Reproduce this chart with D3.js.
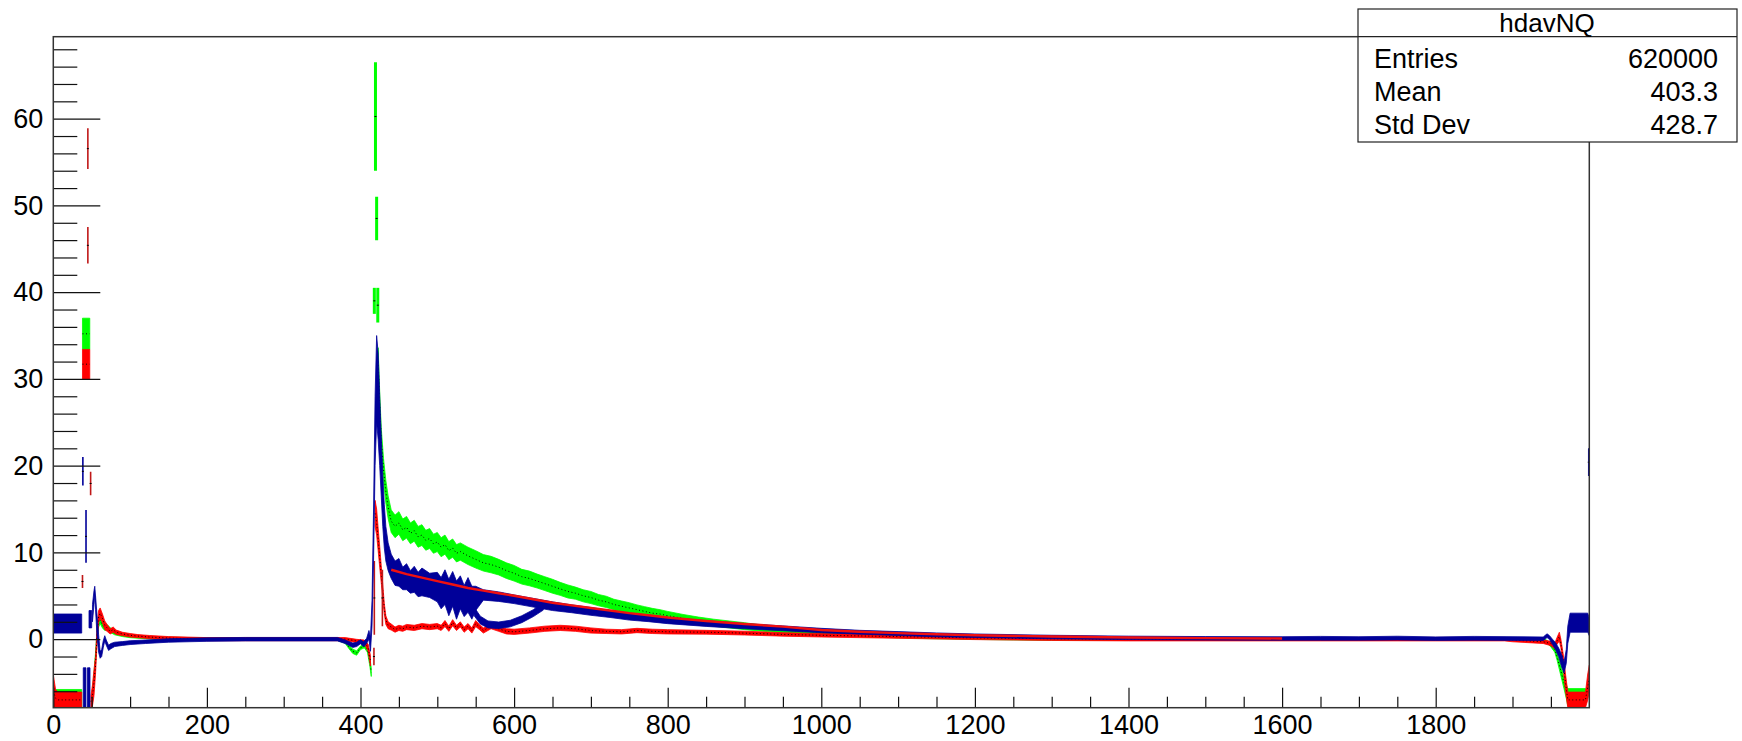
<!DOCTYPE html>
<html>
<head>
<meta charset="utf-8">
<script src="https://d3js.org/d3.v7.min.js"></script>
<style>
	body { margin:0; background:#fff; }
	svg text { font-family:"Liberation Sans", Arial, Helvetica, sans-serif; fill:#000; }
</style>
</head>
<body>
<div id="svg-container"></div>
<script>
// histogram bins: [x, value, error], null = gap
var greenBins = [
	[2,-6.8,1.0],[37,-6.8,1.0], null,
	[38,35.2,1.8],[47.5,35.2,1.8], null,
	[50,-7.5,0.8],[53,-4.5,0.6],[55,-2.0,0.5],[57,0.5,0.5],[59,1.8,0.4],[61,2.2,0.4],[64,1.6,0.3],[67,1.3,0.3],
	[70,1.4,0.3],[75,1.0,0.25],[80,0.7,0.2],[90,0.5,0.2],[100,0.35,0.18],[120,0.2,0.15],[150,0.08,0.15],
	[200,0,0.15],[370,0,0.15],[380,-0.3,0.18],[385,-0.9,0.2],[390,-1.4,0.25],[395,-1.6,0.25],[400,-1.0,0.2],
	[405,-0.8,0.2],[409,-1.2,0.3],[412,-2.5,0.5],[414,-3.8,0.5], null,
	[423,32,1.6],[425,27,1.5],[427,23,1.4],[430,19.5,1.3],[433,17,1.3],[436,15.2,1.3],
	[440,13.6,1.3],[445,13.0,1.3],[450,13.4,1.3],[455,12.6,1.25],[460,12.9,1.25],[465,12.2,1.2],[470,12.5,1.2],
	[475,11.8,1.2],[480,12.0,1.2],[485,11.4,1.15],[490,11.6,1.15],[495,11.0,1.1],[500,11.2,1.1],[505,10.6,1.1],
	[510,10.9,1.1],[515,10.2,1.05],[520,10.5,1.05],[525,9.9,1.0],[530,10.1,1.0],[540,9.6,1.0],[550,9.2,1.0],
	[560,8.8,0.95],[570,8.6,0.95],[580,8.3,0.9],[590,7.9,0.9],[600,7.6,0.9],[610,7.2,0.85],[620,7.0,0.85],
	[630,6.7,0.8],[640,6.4,0.8],[650,6.1,0.8],[660,5.8,0.75],[670,5.5,0.75],[680,5.3,0.7],[690,5.0,0.7],
	[700,4.8,0.7],[710,4.5,0.65],[720,4.3,0.65],[730,4.0,0.6],[740,3.8,0.6],[750,3.6,0.6],[760,3.4,0.55],
	[770,3.2,0.55],[780,3.0,0.55],[790,2.9,0.5],[800,2.7,0.5],[820,2.4,0.45],[840,2.1,0.45],[860,1.9,0.4],
	[880,1.7,0.4],[900,1.5,0.4],[920,1.3,0.35],[940,1.15,0.35],[960,1.0,0.3],[980,0.9,0.3],[1000,0.8,0.3],
	[1030,0.65,0.25],[1060,0.5,0.25],[1090,0.4,0.22],[1120,0.3,0.2],[1150,0.22,0.18],[1200,0.12,0.15],
	[1250,0.06,0.15],[1300,0.02,0.15],[1940,0,0.15],[1945,-0.3,0.15],[1950,-0.7,0.2],[1955,-1.2,0.3],
	[1958,-2.0,0.4],[1961,-3.0,0.5],[1964,-4.0,0.6],[1967,-5.0,0.7],[1970,-6.0,0.8],[1972,-6.7,1.0],[1995,-6.7,1.0]
];

var redBins = [
	[0,-6.0,1.9],[3,-6.8,1.0],[6,-7.0,0.9],[37,-7.0,0.9], null,
	[38,31.7,1.7],[47.5,31.7,1.7], null,
	[49,-7.2,0.7],[51,-6.5,1.2],[53,-5.0,1.5],[55,-3.0,1.0],[57,0.5,1.0],[59,2.6,0.7],[61,3.0,0.6],[64,2.4,0.5],
	[67,1.6,0.5],[70,1.3,0.4],[74,0.9,0.3],[78,1.1,0.3],[82,0.8,0.25],[90,0.6,0.2],[100,0.45,0.2],[110,0.35,0.18],
	[125,0.25,0.18],[150,0.12,0.18],[200,0,0.18],[380,0,0.18],[395,-0.2,0.18],[405,-0.3,0.2],[410,-1.0,0.4],
	[413,-2.5,0.6], null,
	[419,14.5,1.5],[421,13.5,1.5],[423,11.5,1.3],[425,9.5,1.2],[427,7.5,1.0],[429,5.5,0.8],[431,3.5,0.6],
	[433,2.2,0.5],[436,1.6,0.4],[440,1.4,0.35],[445,1.1,0.3],[450,1.3,0.3],[455,1.2,0.3],[460,1.4,0.3],
	[470,1.3,0.3],[480,1.5,0.3],[490,1.4,0.3],[500,1.5,0.3],[505,1.3,0.3],[510,1.8,0.35],[515,1.2,0.3],
	[520,1.9,0.35],[525,1.3,0.3],[530,1.7,0.3],[535,1.1,0.3],[540,1.5,0.3],[545,1.0,0.3],[550,1.8,0.35],
	[555,1.4,0.3],[560,1.0,0.3],[570,1.5,0.3],[580,1.2,0.3],[590,0.9,0.3],[600,0.85,0.3],[620,1.0,0.3],
	[640,1.2,0.3],[660,1.3,0.3],[680,1.2,0.3],[700,1.0,0.3],[720,0.9,0.25],[740,0.85,0.25],[760,1.0,0.25],
	[780,0.9,0.25],[800,0.85,0.25],[850,0.8,0.22],[900,0.7,0.22],[950,0.55,0.2],[1000,0.45,0.2],[1100,0.3,0.2],
	[1200,0.15,0.2],[1300,0.05,0.2],[1400,0,0.2],[1890,0,0.2],[1900,-0.1,0.2],[1920,-0.2,0.2],[1940,-0.3,0.2],
	[1950,-0.5,0.25],[1955,-0.8,0.3],[1958,-0.2,0.4],[1961,0.3,0.5],[1963,-0.5,0.5],[1966,-2.5,0.8],
	[1969,-5.0,1.0],[1972,-7.0,0.9],[1995,-7.0,0.9],[1998,-5.5,1.5],[2000,-4.5,1.5]
];

var blueBins = [
	[0,1.8,1.1],[37,1.8,1.1], null,
	[39,-5.6,2.3],[42.5,-5.6,2.3], null,
	[44.5,-5.6,2.3],[47.8,-5.6,2.3], null,
	[46.5,2.3,1.0],[50,2.3,1.0], null,
	[51,3.0,1.0],[53,4.8,0.8],[54,5.6,0.5],[55,4.2,0.8],[57,1.5,1.2],[59,-0.5,1.0],[61,-1.8,0.4],[63,-1.6,0.4],
	[65,-0.6,0.4],[67,0.1,0.3],[69,-0.4,0.3],[72,-1.0,0.3],[75,-0.8,0.3],[80,-0.6,0.25],[90,-0.5,0.22],
	[100,-0.4,0.22],[120,-0.3,0.2],[150,-0.15,0.2],[200,-0.05,0.2],[250,0,0.2],[370,0,0.2],[380,-0.3,0.2],
	[385,-0.5,0.22],[390,-0.7,0.25],[395,-0.6,0.25],[400,-0.3,0.22],[404,-0.6,0.3],[408,-0.2,0.3],[411,0.5,0.5],
	[413,-0.6,0.8],[415,3.0,1.5],[417,12.0,3.0],[419,24.0,4.0],[421,30.0,5.0],[423,28.0,5.0],[425,24,4],
	[427,20,3.5],[429,16,3],[431,13,2.5],[433,11,2],[436,9.5,1.6],[440,8.4,1.4],[445,7.6,1.4],[450,7.7,1.6],
	[455,7.0,1.3],[460,7.2,1.5],[465,6.6,1.3],[470,6.9,1.5],[475,6.3,1.4],[480,6.6,1.6],[490,6.2,1.4],
	[500,6.0,1.7],[505,5.3,1.8],[510,6.0,2.0],[515,4.8,2.1],[520,5.8,2.0],[525,4.5,2.2],[530,5.4,1.9],
	[535,4.4,1.8],[540,5.1,2.0],[545,4.2,1.9],[550,4.7,1.4],[560,5.1,0.6],[580,4.9,0.55],[600,4.6,0.5],
	[625,4.2,0.5],[650,3.8,0.5],[675,3.5,0.45],[700,3.2,0.45],[725,2.9,0.4],[750,2.6,0.4],[775,2.4,0.38],
	[800,2.15,0.36],[850,1.8,0.33],[900,1.5,0.3],[950,1.25,0.28],[1000,1.0,0.25],[1050,0.8,0.22],
	[1100,0.65,0.22],[1150,0.5,0.22],[1200,0.4,0.2],[1300,0.25,0.2],[1400,0.15,0.2],[1500,0.1,0.2],
	[1600,0.08,0.2],[1650,0.1,0.22],[1700,0.08,0.2],[1750,0.12,0.22],[1800,0.06,0.2],[1850,0.1,0.22],
	[1940,0.05,0.2],[1945,0.4,0.22],[1948,0.2,0.22],
	[1952,-0.3,0.3],[1956,-0.8,0.4],[1960,-1.5,0.5],[1964,-2.5,0.7],[1967,-3.3,0.6],[1970,-2.0,0.8],
	[1972,0.5,1.0],[1975,1.9,1.1],[1998,1.9,1.1],[2000,1.4,1.0], null,
	[548,3.2,0.5],[556,2.2,0.45],[566,1.7,0.4],[580,1.6,0.38],[595,1.8,0.38],[610,2.3,0.4],[625,3.0,0.4],
	[638,3.8,0.45]
];

// fitted curve drawn on top
var fitX = [440,460,480,500,520,540,560,580,600,625,650,675,700,725,750,775,800,850,900,950,1000,1050,1100,1150,1200,1300,1400,1500,1600];
var fitY = [8.0,7.5,7.1,6.7,6.3,5.9,5.6,5.3,5.0,4.6,4.2,3.9,3.6,3.3,3.0,2.75,2.5,2.1,1.75,1.45,1.05,0.85,0.7,0.57,0.46,0.3,0.19,0.12,0.08];

// single bins shown only as error segments: [x, low, high]
var greenSegs = [[418,37.5,40.5],[419.5,54,66.5],[421,46,51],[422.5,36.5,40.5]];
var redSegs = [[38,5.9,7.4],[45,54.2,58.9],[45,43.3,47.5],[48.6,16.6,19.3],[418,0.5,9],[428.5,1.5,8],[417.5,-3,-1]];
var blueSegs = [[38.5,17.7,21.0],[42.6,8.8,14.9],[1999.3,18.8,22.0]];

var xMajor = [0,200,400,600,800,1000,1200,1400,1600,1800];
var yMajor = [0,10,20,30,40,50,60];

var statsTitle = "hdavNQ",
	statsNames = ["Entries","Mean","Std Dev"],
	statsValues = ["620000","403.3","428.7"];

var svg_width=1742,
	svg_height=741,
	frame_left=53.3,
	frame_top=36.7,
	frame_right=1589.3,
	frame_bottom=707.7,
	label_size=27,
	green="#00ff00",
	red="#ff0000",
	blue="#000099";

var svg = d3.select("#svg-container").append("svg")
	.attr("width", svg_width)
	.attr("height", svg_height);

var x = d3.scaleLinear().domain([0,2000]).range([frame_left, frame_right]);
var y = d3.scaleLinear().domain([-7.9,69.45]).range([frame_bottom, frame_top]);

svg.append("clipPath").attr("id","frame-clip")
	.append("rect")
	.attr("x", frame_left).attr("y", frame_top)
	.attr("width", frame_right-frame_left).attr("height", frame_bottom-frame_top);

var plot = svg.append("g").attr("clip-path","url(#frame-clip)");

var band = d3.area()
	.defined(function (d) { return d!=null; })
	.x(function (d) { return x(d[0]); })
	.y0(function (d) { return y(d[1]-d[2]); })
	.y1(function (d) { return y(d[1]+d[2]); });

var centre = d3.line()
	.defined(function (d) { return d!=null; })
	.x(function (d) { return x(d[0]); })
	.y(function (d) { return y(d[1]); });

function drawHisto(bins, colour, dots) {
	plot.append("path").datum(bins)
		.attr("d", band)
		.attr("fill", colour)
		.attr("stroke", colour)
		.attr("stroke-width", 0.8);
	if (dots) {
		plot.append("path").datum(bins)
			.attr("d", centre)
			.attr("fill", "none")
			.attr("stroke", "#000")
			.attr("stroke-width", 1)
			.attr("stroke-dasharray", "1,2.5");
	}
}

function drawSegs(segs, colour, width) {
	plot.selectAll(null).data(segs).enter().append("line")
		.attr("x1", function (d) { return x(d[0]); })
		.attr("x2", function (d) { return x(d[0]); })
		.attr("y1", function (d) { return y(d[1]); })
		.attr("y2", function (d) { return y(d[2]); })
		.attr("stroke", colour)
		.attr("stroke-width", width);
	plot.selectAll(null).data(segs).enter().append("rect")
		.attr("x", function (d) { return x(d[0])-1; })
		.attr("y", function (d) { return y((d[1]+d[2])/2)-0.5; })
		.attr("width", 2).attr("height", 1)
		.attr("fill", "#000");
}

drawHisto(greenBins, green, true);
drawSegs(greenSegs, green, 3);
drawHisto(redBins, red, true);
drawSegs(redSegs, "#c01818", 1.6);
drawHisto(blueBins, blue, false);
drawSegs(blueSegs, blue, 1.6);

plot.append("path")
	.datum(fitX.map(function (v,i) { return [v, fitY[i]]; }))
	.attr("d", centre)
	.attr("fill", "none")
	.attr("stroke", "#f01010")
	.attr("stroke-width", 2.4);

// axes, ticks pointing inside the frame
var xMinor = d3.range(50, 2000, 50).filter(function (v) { return v%200!=0; });
var yMinor = d3.range(-6, 69, 2).filter(function (v) { return v%10!=0; });

var gx = svg.append("g").attr("transform","translate(0,"+frame_bottom+")")
	.call(d3.axisBottom(x).tickValues(xMajor).tickSize(-20).tickPadding(7).tickFormat(d3.format("d")));
svg.append("g").attr("transform","translate(0,"+frame_bottom+")")
	.call(d3.axisBottom(x).tickValues(xMinor).tickSize(-11).tickFormat(""));
var gy = svg.append("g").attr("transform","translate("+frame_left+",0)")
	.call(d3.axisLeft(y).tickValues(yMajor).tickSize(-47).tickPadding(10).tickFormat(d3.format("d")));
svg.append("g").attr("transform","translate("+frame_left+",0)")
	.call(d3.axisLeft(y).tickValues(yMinor).tickSize(-24).tickFormat(""));

svg.selectAll(".domain").remove();
svg.selectAll(".tick line").attr("stroke","#111").attr("stroke-width",1.2);
gx.selectAll("text").attr("font-size",label_size).attr("font-family",null);
gy.selectAll("text").attr("font-size",label_size).attr("font-family",null);

svg.append("rect")
	.attr("x", frame_left).attr("y", frame_top)
	.attr("width", frame_right-frame_left).attr("height", frame_bottom-frame_top)
	.attr("fill","none").attr("stroke","#333").attr("stroke-width",1.5);

// stats box
var box = svg.append("g");
box.append("rect")
	.attr("x",1358).attr("y",9).attr("width",379).attr("height",133)
	.attr("fill","#fff").attr("stroke","#222").attr("stroke-width",1.2);
box.append("line")
	.attr("x1",1358).attr("x2",1737).attr("y1",frame_top).attr("y2",frame_top)
	.attr("stroke","#222").attr("stroke-width",1.2);
box.append("text")
	.attr("x",1547).attr("y",32)
	.style("text-anchor","middle")
	.style("font-size","26px")
	.text(statsTitle);
box.selectAll("text.name").data(statsNames).enter().append("text")
	.attr("class","name")
	.attr("x",1374)
	.attr("y",function (d,i) { return 68+i*33; })
	.style("font-size","27px")
	.text(function (d) { return d; });
box.selectAll("text.value").data(statsValues).enter().append("text")
	.attr("class","value")
	.attr("x",1718)
	.attr("y",function (d,i) { return 68+i*33; })
	.style("text-anchor","end")
	.style("font-size","27px")
	.text(function (d) { return d; });
</script>
</body>
</html>
